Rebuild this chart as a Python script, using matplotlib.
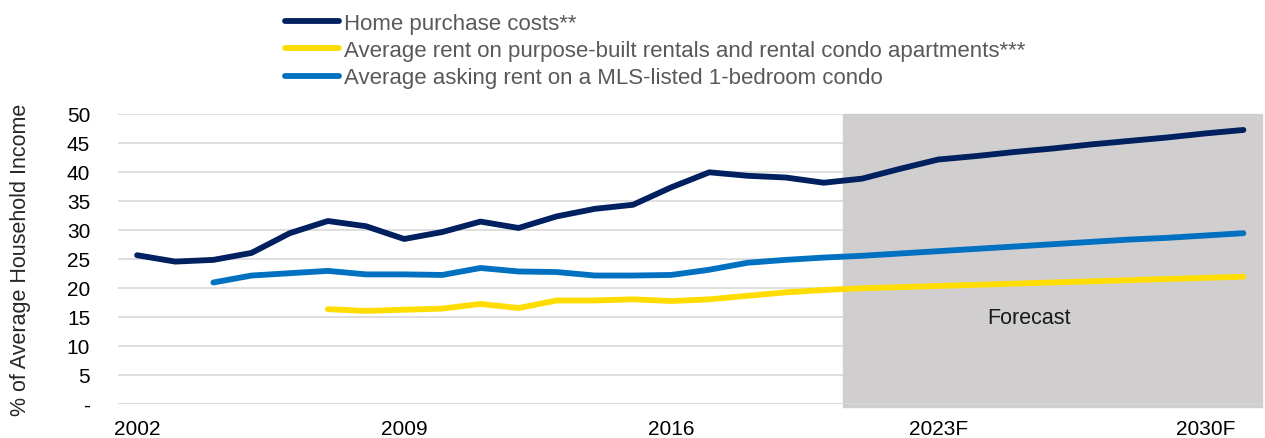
import numpy as np
import matplotlib
matplotlib.use("Agg")
import matplotlib.pyplot as plt

plt.rcParams['font.family'] = ['Liberation Sans', 'DejaVu Sans']

years = list(range(2002, 2032))
tick_years = [2002, 2009, 2016, 2023, 2030]
tick_labels = ['2002', '2009', '2016', '2023F', '2030F']

# % of average household income
home_purchase = [25.6, 24.5, 24.8, 26.0, 29.4, 31.5, 30.6, 28.4, 29.6, 31.4,
                 30.3, 32.3, 33.6, 34.3, 37.3, 39.9, 39.3, 39.0, 38.1, 38.8,
                 40.5, 42.1, 42.7, 43.4, 44.0, 44.7, 45.3, 45.9, 46.6, 47.2]
# starts 2007
purpose_built_rent = [16.3, 16.0, 16.2, 16.4, 17.2,
                      16.5, 17.8, 17.8, 18.0, 17.7, 18.0, 18.6, 19.2, 19.6, 19.9,
                      20.1, 20.3, 20.5, 20.7, 20.9, 21.1, 21.3, 21.5, 21.7, 21.9]
# starts 2004
mls_condo_rent = [20.9, 22.1, 22.5, 22.9, 22.3, 22.3, 22.2, 23.4,
                  22.8, 22.7, 22.1, 22.1, 22.2, 23.1, 24.3, 24.8, 25.2, 25.5,
                  25.9, 26.3, 26.7, 27.1, 27.5, 27.9, 28.3, 28.6, 29.0, 29.4]

forecast_start = 2020.5

x = np.arange(len(years))
x_rent = x[years.index(2007):]
x_mls = x[years.index(2004):]

fig = plt.figure(figsize=(12.65, 4.39), dpi=100)
ax = fig.add_axes([0.0933, 0.0781, 0.9047, 0.6606])

fs = 15
ax.set_ylim(0, 50)
ax.set_xlim(-0.5, len(years) - 0.5)
ax.set_yticks(range(0, 51, 5))
ax.set_yticklabels(['-'] + [str(v) for v in range(5, 51, 5)], fontsize=fs)
ax.set_xticks([years.index(y) for y in tick_years])
ax.set_xticklabels(tick_labels, fontsize=fs)
ax.tick_params(axis='y', length=0, pad=20)
ax.tick_params(axis='x', length=0, pad=11)
for s in ax.spines.values():
    s.set_visible(False)

ax.grid(axis='y', color='#D9D9D9', linewidth=1.2, zorder=0)
ax.set_axisbelow(True)

fx = forecast_start - years[0]
ax.axvspan(fx, len(years) - 0.5, ymin=-0.01, ymax=1, color='#D0CECF', zorder=1, clip_on=False)
ax.axhline(0, color='#D9D9D9', linewidth=1.2, zorder=2)
ax.text(23.37, 14.8, 'Forecast', fontsize=15.5, color='#1a1a1a', ha='center', va='center', zorder=2)

lw = 4.2
ax.plot(x, home_purchase, color='#002060', lw=lw, solid_capstyle='round', zorder=3,
        label='Home purchase costs**')
ax.plot(x_rent, purpose_built_rent, color='#FFDD00', lw=lw, solid_capstyle='round', zorder=3,
        label='Average rent on purpose-built rentals and rental condo apartments***')
ax.plot(x_mls, mls_condo_rent, color='#0070C0', lw=lw, solid_capstyle='round', zorder=3,
        label='Average asking rent on a MLS-listed 1-bedroom condo')

ax.set_ylabel('% of Average Household Income', fontsize=15.5, color='#262626')
ax.yaxis.set_label_coords(-0.076, 0.5)

leg = fig.legend(loc='upper left', bbox_to_anchor=(285 / 1265, 1 - 14 / 439),
                 frameon=False, fontsize=16, handlelength=2.45, handletextpad=0.2,
                 labelspacing=0.28, borderpad=0, borderaxespad=0)
for t in leg.get_texts():
    t.set_color('#595959')

fig.savefig('out.png', dpi=100)
